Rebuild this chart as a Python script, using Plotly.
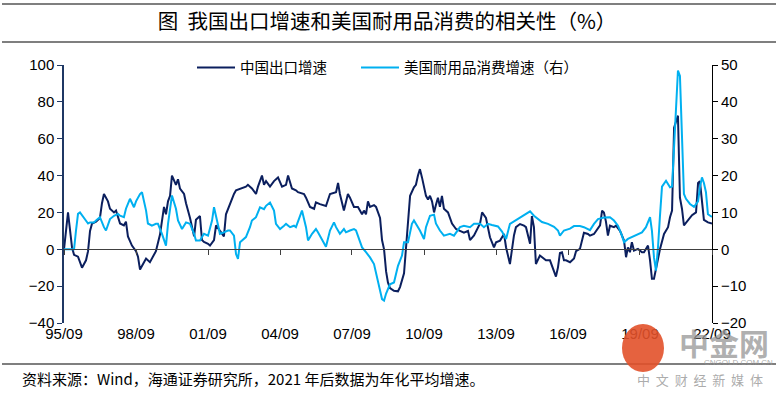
import plotly.graph_objects as go
import pandas as pd

# ---- data: months since 1995-09 and values ----
china_months = [0, 2, 4, 5, 7, 9, 11, 12, 13, 14, 16, 18, 19, 20, 22, 23, 25, 26, 28, 30,
                31, 32, 34, 36, 37, 38, 40, 41, 43, 45, 46, 48, 50, 51, 52, 53, 54, 56, 57, 58,
                60, 61, 63, 65, 66, 68, 69, 70, 72, 73, 75, 76, 78, 80, 81, 83, 85, 86, 89, 91,
                92, 94, 96, 97, 99, 100, 101, 103, 105, 107, 109, 111, 112, 114, 116, 117, 120, 121, 123, 125,
                126, 128, 131, 133, 136, 137, 138, 140, 142, 143, 145, 147, 149, 150, 151, 152, 153, 155, 156, 158,
                159, 160, 161, 162, 163, 165, 167, 168, 170, 171, 173, 175, 176, 177, 178, 179, 181, 182, 183, 184,
                185, 186, 187, 188, 189, 190, 192, 194, 196, 198, 200, 202, 203, 205, 206, 208, 209, 211, 213, 215,
                216, 218, 220, 221, 223, 225, 226, 228, 230, 231, 233, 234, 235, 236, 238, 240, 241, 243, 245, 246,
                247, 248, 249, 250, 251, 253, 255, 256, 258, 260, 262, 263, 265, 266, 268, 269, 270, 271, 272, 273,
                275, 276, 278, 280, 281, 282, 283, 284, 285, 287, 289, 290, 292, 293, 294, 295, 296, 297, 298, 300,
                302, 303, 304, 305, 306, 307, 308, 309, 310, 312, 314, 316, 317, 318, 319, 320, 322, 324]
china_export = [0, 20, 1, -3, -4, -10, -6, -1, 10, 14, 15, 17, 25, 30, 26, 22, 20, 21, 14, 13,
                15, 7, 2, -1, -4, -11, -7, -5, -7, -2.5, -1, 8, 23, 19, 26, 29, 40, 35, 38, 33,
                30, 25, 17, 7, 16, 18, 5, 4, 3, 2, 5, 13, 10, 7, 19, 25, 30, 32, 33, 34,
                35, 33, 30, 34, 40, 35, 37, 34, 37, 39, 34, 35, 40, 33, 32, 31, 30, 28, 23, 22,
                25.5, 24.5, 23.5, 30, 31, 36, 30, 21, 30, 28, 23, 23, 19, 21, 19, 26, 23, 24, 23, 17,
                5, 0, -12, -18, -21, -22.5, -22.8, -20.5, -13, 2, 29, 33.6, 35, 40, 43.5, 39, 29, 27, 29, 26,
                20, 24, 28, 23, 29, 22, 20, 14, 11, 10, 9, 10, 5, 7.5, 10, 14, 20, 17, 6.5, 1,
                3.8, 4.7, 8.3, 1, -8, 7.5, 12, 13.7, 12.8, 12, 3, 18, 12, -8, -3.4, -5, -6, -6, -11.6, -14.8,
                -9.8, -2, -1.6, -6, -6, -7, -5, -1, 0.2, 9, 8.3, 7.4, 8.3, 10, 13, 21, 20, 15, 7.4, 12.8,
                12, 12.8, 10, 4.7, -4.3, 1, -1.6, 3.8, -0.7, 0.2, -1.6, -1.6, 2, -6, -16, -16, -10, -6, 0, 8.3,
                12, 17.4, 21, 66, 69, 72.5, 28, 22, 13, 15.5, 18.5, 20, 36, 37, 24, 16, 14.6, 14]

us_months = [0, 5, 6, 7, 8, 10, 12, 13, 15, 16, 18, 20, 21, 23, 25, 27, 28, 30, 31, 33,
             35, 36, 38, 39, 41, 42, 44, 46, 47, 49, 51, 52, 53, 54, 56, 57, 59, 61, 63, 65,
             66, 68, 70, 72, 74, 75, 77, 78, 80, 82, 83, 85, 86, 87, 88, 90, 91, 93, 94, 96,
             98, 100, 101, 103, 105, 106, 108, 110, 111, 113, 115, 116, 118, 119, 121, 122, 124, 126, 127, 129,
             131, 133, 135, 136, 138, 140, 141, 143, 145, 146, 149, 151, 153, 155, 156, 158, 159, 160, 161, 163,
             165, 166, 167, 169, 170, 172, 174, 175, 177, 178, 180, 181, 183, 185, 186, 188, 190, 193, 195, 198,
             200, 203, 205, 208, 210, 212, 214, 217, 219, 221, 223, 226, 229, 231, 233, 235, 237, 239, 242, 245,
             247, 248, 250, 253, 255, 258, 260, 263, 265, 267, 270, 273, 275, 277, 279, 280, 282, 284, 287, 289,
             291, 293, 294, 295, 296, 297, 298, 299, 301, 303, 304, 305, 306, 307, 308, 309, 310, 311, 313, 315,
             317, 318, 319, 320, 321, 322, 324]
us_durables = [0, 0, 5, 9.6, 10, 8.5, 7, 7.3, 7.3, 7.8, 8.7, 6, 5.1, 8.2, 9.1, 9.6, 9.1, 8.7, 11, 13.7,
               11.4, 13, 15, 15.5, 10.5, 7, 6.4, 6.9, 6.9, 4.2, 1, 6.9, 11.4, 14.6, 11, 7.8, 5.5, 7.3, 6.9, 4.2,
               2.4, 2.4, 4.2, 3.7, 7.8, 11.4, 6.5, 4.2, 4.6, 5.1, 5.1, 3.7, -1.3, -2.6, 1.9, 2.8, 3.3, 6, 7.8, 8.7,
               11.4, 10.9, 11.8, 12.7, 10.5, 6.9, 5.5, 6.4, 6.9, 6, 6.4, 6, 9.1, 10.5, 6, 2.4, 4.2, 5.5, 4.6, 2.8,
               0.7, 5.1, 7.3, 6, 4.2, 5.5, 4.6, 5.1, 5.5, 5.1, 0.5, -0.8, -2.2, -4, -6.7, -11.2, -13.5, -13.9, -12, -9.5,
               -9, -6.5, -4.5, -1.7, 1.9, 1.9, 6.9, 7.8, 6, 5.1, 2.8, 6, 9.1, 9.4, 7, 5.1, 3.7, 4.2, 3.7, 6,
               6.4, 6, 6.9, 6.9, 6, 6.9, 6.6, 6.2, 4.8, 2.8, 6.9, 7.9, 8.8, 9.6, 10.3, 9.1, 8.2, 7.4, 6.9, 6.1,
               5.1, 3.7, 5.1, 5.6, 6.3, 6.3, 6, 5.2, 6.9, 8.2, 8.6, 8.7, 7.8, 6.4, 3.7, 1.9, 2.8, 3.3, 4.2, 4.6,
               6, 8.7, 5, -2.2, -5.8, 0.5, 9, 17, 18.6, 16.8, 17, 28, 38, 48.5, 47, 33, 15, 13.7, 12.3, 11.5,
               13, 16.8, 19.5, 18, 15.5, 9.5, 8.8]

tick_dates = ["1995-09-01", "1998-09-01", "2001-09-01", "2004-09-01", "2007-09-01",
              "2010-09-01", "2013-09-01", "2016-09-01", "2019-09-01", "2022-09-01"]
tick_labels = ["95/09", "98/09", "01/09", "04/09", "07/09", "10/09", "13/09", "16/09", "19/09", "22/09"]

start = pd.Timestamp("1995-09-01")
china_dates = [start + pd.DateOffset(months=m) for m in china_months]
us_dates = [start + pd.DateOffset(months=m) for m in us_months]

DARK = "#0b1f5e"
LIGHT = "#00b0f0"
CJK = "Noto Sans CJK SC"
LAT = "Liberation Sans, Arial"


def px_x(p):
    return (p - 64) / 648


def px_y(p):
    return (323 - p) / 258


fig = go.Figure()
fig.add_trace(go.Scatter(x=china_dates, y=china_export, name="中国出口增速", mode="lines",
                         line=dict(color=DARK, width=2), xaxis="x", yaxis="y", legend="legend"))
fig.add_trace(go.Scatter(x=us_dates, y=us_durables, name="美国耐用品消费增速（右）", mode="lines",
                         line=dict(color=LIGHT, width=2), xaxis="x2", yaxis="y2", legend="legend2"))

legend_common = dict(orientation="h", xanchor="left", yanchor="middle", y=0.99,
                     font=dict(family=CJK, size=14.5, color="black"),
                     bgcolor="rgba(0,0,0,0)", itemwidth=38)

xr = ["1995-09-01", "2022-09-01"]
fig.update_layout(
    width=782, height=394,
    margin=dict(l=64, r=70, t=65, b=71),
    paper_bgcolor="white", plot_bgcolor="white",
    showlegend=True,
    legend=dict(x=px_x(192), **legend_common),
    legend2=dict(x=px_x(356), **legend_common),
    title=dict(text="图  我国出口增速和美国耐用品消费的相关性（%）", x=0.495, xref="container",
               y=1 - 22 / 394, yref="container", xanchor="center", yanchor="middle",
               font=dict(family=CJK, size=20.5, color="black")),
    xaxis=dict(type="date", range=xr, tickvals=tick_dates, ticktext=tick_labels,
               showline=False, ticks="", showgrid=False, zeroline=False,
               tickfont=dict(family=LAT, size=15, color="black")),
    xaxis2=dict(type="date", range=xr, overlaying="x", anchor="free", position=40 / 140,
                tickvals=tick_dates, showticklabels=False, ticks="outside", ticklen=5,
                tickcolor="#404040", showline=True, linecolor="#404040", linewidth=1,
                showgrid=False, zeroline=False),
    yaxis=dict(range=[-40, 100], dtick=20, ticks="outside", ticklen=5, tickcolor="#1f3864",
               showline=True, linecolor="#1f3864", linewidth=1.5, showgrid=False, zeroline=False,
               tickfont=dict(family=LAT, size=15, color="black")),
    yaxis2=dict(range=[-20, 50], dtick=10, overlaying="y", side="right", anchor="x",
                ticks="outside", ticklen=5, tickcolor="black",
                showline=True, linecolor="black", linewidth=1, showgrid=False, zeroline=False,
                tickfont=dict(family=LAT, size=15, color="black")),
)

# title rules and footer rule (page decoration)
for yy in (4, 42, 364):
    fig.add_shape(type="line", xref="paper", yref="paper", x0=px_x(2), x1=px_x(776),
                  y0=px_y(yy), y1=px_y(yy), line=dict(color="black", width=1.2))

fig.add_annotation(text="资料来源：Wind，海通证券研究所，2021 年后数据为年化平均增速。",
                   xref="paper", yref="paper", x=px_x(20), y=px_y(378), xanchor="left",
                   yanchor="middle", showarrow=False, font=dict(family=CJK, size=15, color="black"))

# watermark
fig.add_shape(type="circle", xref="paper", yref="paper", x0=px_x(622), x1=px_x(664),
              y0=px_y(324), y1=px_y(372), fillcolor="#e2512a", line=dict(width=0), opacity=0.9)
fig.add_annotation(text="<b>中金网</b>", xref="paper", yref="paper", x=px_x(724), y=px_y(342),
                   xanchor="center", yanchor="middle",
                   showarrow=False, font=dict(family=CJK, size=30, color="rgba(150,150,150,0.75)"))
fig.add_annotation(text="CNGOLD.COM.CN", xref="paper", yref="paper", x=px_x(738), y=px_y(362),
                   xanchor="center", yanchor="middle",
                   showarrow=False, font=dict(family=LAT, size=8, color="rgba(150,150,150,0.8)"))
fig.add_annotation(text="中&nbsp;&nbsp;文&nbsp;&nbsp;财&nbsp;&nbsp;经&nbsp;&nbsp;新&nbsp;&nbsp;媒&nbsp;&nbsp;体",
                   xref="paper", yref="paper", x=px_x(700), y=px_y(379),
                   xanchor="center", yanchor="middle",
                   showarrow=False, font=dict(family=CJK, size=13, color="rgba(150,150,150,0.8)"))

fig.write_html("out.html", config={"displayModeBar": False},
               post_script="document.body.style.margin='0';")
